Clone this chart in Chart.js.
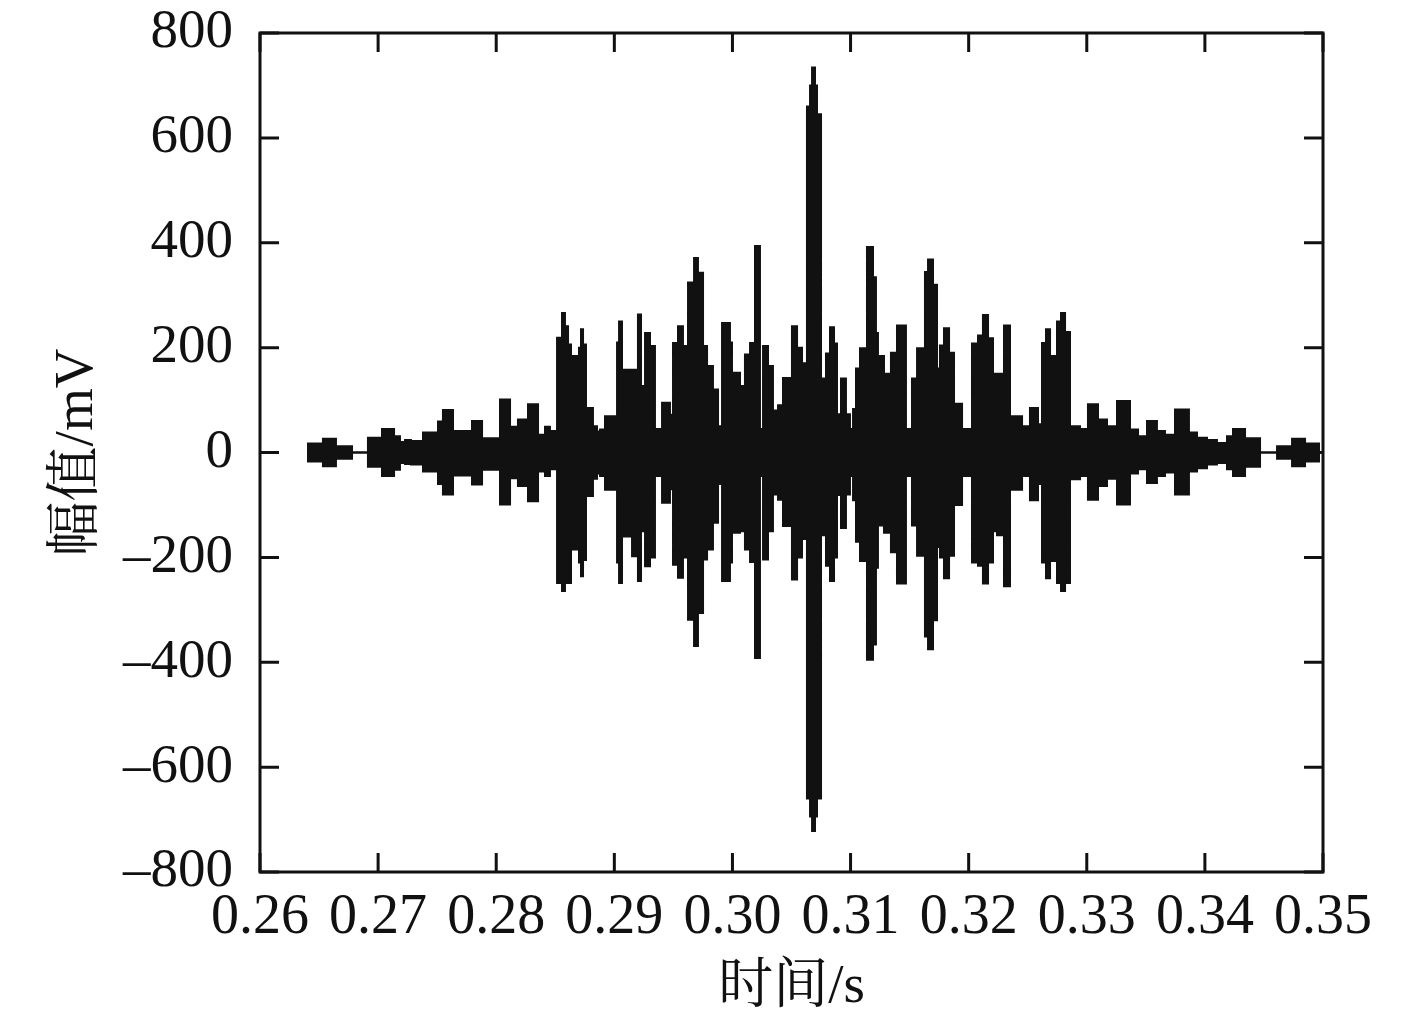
<!DOCTYPE html>
<html>
<head>
<meta charset="utf-8">
<title>幅值/mV</title>
<script src="https://cdn.jsdelivr.net/npm/chart.js@4.4.0/dist/chart.umd.min.js"></script>
<style>
  body { margin: 0; background: #fff; }
  canvas { display: block; }
</style>
</head>
<body>
<canvas id="canvas" width="1417" height="1028"></canvas>
<script>
//--Data (step starts, envelope top / bottom)-------------------------------------------------
var tiempos = [
    0.26398, 0.26516, 0.26533, 0.26643, 0.26660, 0.26779, 0.26914, 0.27033, 0.27135, 0.27185,
    0.27228, 0.27278, 0.27380, 0.27507, 0.27549, 0.27634, 0.27795, 0.27880, 0.28032, 0.28117,
    0.28184, 0.28269, 0.28354, 0.28413, 0.28455, 0.28515, 0.28557, 0.28582, 0.28608, 0.28633,
    0.28650, 0.28701, 0.28718, 0.28735, 0.28760, 0.28819, 0.28853, 0.28879, 0.28921, 0.29006,
    0.29023, 0.29040, 0.29065, 0.29150, 0.29200, 0.29226, 0.29260, 0.29302, 0.29344, 0.29404,
    0.29471, 0.29497, 0.29539, 0.29581, 0.29624, 0.29675, 0.29708, 0.29751, 0.29785, 0.29835,
    0.29878, 0.29912, 0.29979, 0.29996, 0.30064, 0.30106, 0.30149, 0.30191, 0.30233, 0.30259,
    0.30301, 0.30343, 0.30386, 0.30428, 0.30487, 0.30504, 0.30547, 0.30589, 0.30631, 0.30657,
    0.30674, 0.30699, 0.30716, 0.30750, 0.30792, 0.30826, 0.30860, 0.30885, 0.30919, 0.30961,
    0.30995, 0.31021, 0.31046, 0.31080, 0.31139, 0.31190, 0.31215, 0.31232, 0.31283, 0.31342,
    0.31393, 0.31469, 0.31520, 0.31563, 0.31630, 0.31656, 0.31698, 0.31732, 0.31757, 0.31791,
    0.31834, 0.31876, 0.31944, 0.32028, 0.32079, 0.32121, 0.32164, 0.32206, 0.32240, 0.32299,
    0.32350, 0.32452, 0.32519, 0.32587, 0.32621, 0.32655, 0.32689, 0.32739, 0.32748, 0.32782,
    0.32816, 0.32858, 0.32875, 0.32943, 0.33010, 0.33095, 0.33171, 0.33256, 0.33366, 0.33434,
    0.33510, 0.33594, 0.33662, 0.33747, 0.33865, 0.33933, 0.34018, 0.34102, 0.34187, 0.34238,
    0.34340, 0.34356, 0.34467, 0.34611, 0.34721, 0.34738, 0.34848, 0.34865, 0.34975
];

var superior = [
    17, 0, 26, 0, 12, 0, 28, 45, 31, 20,
    24, 22, 38, 59, 81, 41, 60, 27, 101, 49,
    63, 92, 34, 49, 41, 219, 266, 241, 206, 45,
    184, 200, 235, 206, 85, 50, 40, 44, 69, 45,
    210, 250, 158, 158, 263, 127, 228, 203, 45, 95,
    72, 209, 241, 203, 324, 371, 343, 203, 165, 120,
    50, 247, 210, 152, 127, 187, 209, 394, 45, 203,
    165, 80, 90, 142, 100, 241, 200, 170, 660, 700,
    734, 700, 645, 141, 189, 239, 208, 73, 141, 73,
    45, 83, 160, 199, 392, 334, 228, 184, 150, 190,
    242, 45, 141, 199, 344, 368, 320, 160, 204, 237,
    190, 93, 45, 208, 223, 262, 218, 150, 150, 242,
    69, 50, 85, 54, 209, 235, 184, 45, 250, 266,
    230, 45, 50, 45, 92, 63, 50, 98, 44, 31,
    60, 41, 34, 82, 38, 28, 24, 18, 31, 45,
    0, 27, 0, 12, 0, 26, 0, 17, 17
];

var inferior = [
    -17, 0, -26, 0, -12, 0, -27, -45, -33, -20,
    -22, -23, -36, -60, -80, -44, -61, -33, -99, -49,
    -64, -93, -36, -45, -32, -249, -264, -249, -249, -45,
    -185, -210, -236, -205, -83, -50, -40, -45, -71, -45,
    -210, -249, -160, -198, -245, -150, -217, -200, -45, -96,
    -70, -214, -239, -200, -319, -369, -306, -204, -185, -134,
    -60, -245, -210, -153, -150, -185, -209, -392, -45, -204,
    -150, -80, -90, -140, -100, -242, -200, -165, -660, -694,
    -722, -694, -660, -158, -216, -245, -200, -81, -144, -80,
    -45, -91, -170, -207, -395, -366, -220, -139, -153, -190,
    -250, -45, -139, -197, -351, -375, -320, -180, -200, -240,
    -197, -100, -45, -210, -216, -250, -210, -150, -158, -255,
    -71, -45, -91, -60, -210, -240, -207, -45, -249, -264,
    -249, -45, -51, -45, -90, -64, -50, -99, -40, -32,
    -58, -45, -38, -80, -36, -30, -23, -20, -32, -45,
    0, -27, 0, -12, 0, -26, 0, -17, -17
];

var xTicks = [0.26, 0.27, 0.28, 0.29, 0.30, 0.31, 0.32, 0.33, 0.34, 0.35];
var yTicks = [-800, -600, -400, -200, 0, 200, 400, 600, 800];

var tinta = '#111';
var fuente = "'Liberation Serif', 'Times New Roman', 'Noto Serif CJK SC', 'Noto Sans CJK SC', serif";

//--Frame with inward ticks on all four sides----------------------------
var marcoPlugin = {
    id: 'marco',
    afterDraw: function(chart) {
        var ctx = chart.ctx;
        var a = chart.chartArea;
        var sx = chart.scales.x;
        var sy = chart.scales.y;
        var largo = 19;
        ctx.save();
        ctx.strokeStyle = tinta;
        ctx.lineWidth = 3;
        ctx.beginPath();
        sx.ticks.forEach(function(t) {
            var px = sx.getPixelForValue(t.value);
            ctx.moveTo(px, a.bottom);
            ctx.lineTo(px, a.bottom - largo);
            ctx.moveTo(px, a.top);
            ctx.lineTo(px, a.top + largo);
        });
        sy.ticks.forEach(function(t) {
            var py = sy.getPixelForValue(t.value);
            ctx.moveTo(a.left, py);
            ctx.lineTo(a.left + largo, py);
            ctx.moveTo(a.right, py);
            ctx.lineTo(a.right - largo, py);
        });
        ctx.stroke();
        ctx.strokeRect(a.left, a.top, a.right - a.left, a.bottom - a.top);
        ctx.restore();
    }
};

function puntos(valores) {
    return tiempos.map(function(t, i) {
        return { x: t, y: valores[i] };
    });
}

function PlotSignal(ctx) {
    return new Chart(ctx, {
        type: 'line',
        data: {
            datasets: [{
                label: 'superior',
                data: puntos(superior),
                stepped: 'before',
                fill: '+1',
                backgroundColor: tinta,
                borderColor: tinta,
                borderWidth: 2,
                pointRadius: 0
            }, {
                label: 'inferior',
                data: puntos(inferior),
                stepped: 'before',
                fill: false,
                borderColor: tinta,
                borderWidth: 2,
                pointRadius: 0
            }]
        },
        options: {
            responsive: false,
            animation: false,
            layout: { padding: { left: 0, top: 33, right: 94, bottom: 0 } },
            plugins: {
                legend: { display: false },
                tooltip: { enabled: false }
            },
            scales: {
                x: {
                    type: 'linear',
                    min: 0.26,
                    max: 0.35,
                    afterBuildTicks: function(scale) {
                        scale.ticks = xTicks.map(function(v) { return { value: v }; });
                    },
                    afterFit: function(scale) {
                        scale.height = 156;
                        scale.paddingLeft = 0;
                        scale.paddingRight = 0;
                    },
                    grid: { display: false, drawTicks: false },
                    border: { display: false },
                    ticks: {
                        autoSkip: false,
                        maxRotation: 0,
                        padding: 13,
                        color: tinta,
                        font: { family: fuente, size: 56, lineHeight: 1.2 },
                        callback: function(v) { return v.toFixed(2); }
                    },
                    title: {
                        display: true,
                        text: '时间/s',
                        color: tinta,
                        padding: { top: 0, bottom: 7 },
                        font: { family: fuente, size: 55, lineHeight: 1.2 }
                    }
                },
                y: {
                    min: -800,
                    max: 800,
                    afterBuildTicks: function(scale) {
                        scale.ticks = yTicks.map(function(v) { return { value: v }; });
                    },
                    afterFit: function(scale) {
                        scale.width = 260;
                        scale.paddingTop = 0;
                        scale.paddingBottom = 0;
                    },
                    grid: { display: false, drawTicks: false },
                    border: { display: false },
                    ticks: {
                        padding: 27,
                        color: tinta,
                        font: { family: fuente, size: 55, lineHeight: 1.2 },
                        callback: function(v) { return v < 0 ? '\u2013' + Math.abs(v) : String(v); }
                    },
                    title: {
                        display: true,
                        text: '幅值/mV',
                        color: tinta,
                        padding: { top: 45, bottom: 0 },
                        font: { family: fuente, size: 55, lineHeight: 1.2 }
                    }
                }
            }
        },
        plugins: [marcoPlugin]
    });
}

var ctx = document.getElementById('canvas').getContext('2d');
window.myLine = PlotSignal(ctx);
</script>
</body>
</html>
